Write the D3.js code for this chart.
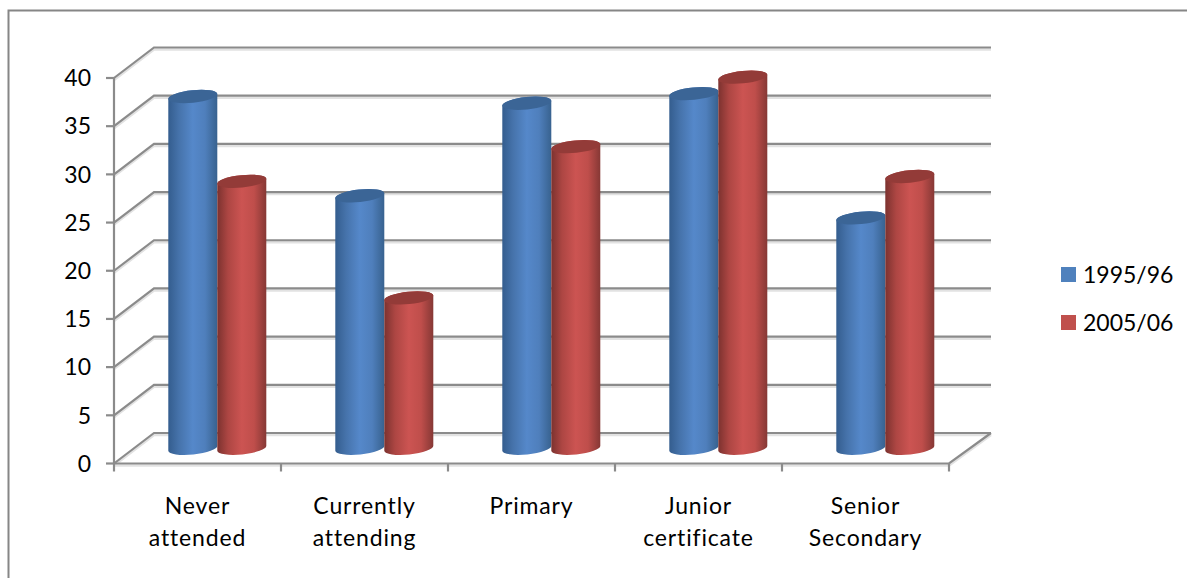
<!DOCTYPE html>
<html>
<head>
<meta charset="utf-8">
<script src="https://cdn.jsdelivr.net/npm/d3@7/dist/d3.min.js"></script>
<style>
  html, body { margin: 0; padding: 0; background: #fff; }
  svg { display: block; }
  text { font-family: Lato, "Open Sans", sans-serif; fill: #000; }
</style>
</head>
<body>
<svg id="chart" width="1187" height="578"></svg>
<script>
// Education levels and the two survey rounds
const categories = [["Never", "attended"], ["Currently", "attending"], ["Primary"], ["Junior", "certificate"], ["Senior", "Secondary"]];
const seriesNames = ["1995/96", "2005/06"];
const values1995 = [36.5, 26.2, 35.8, 36.8, 23.9];
const values2005 = [27.7, 15.6, 31.3, 38.5, 28.2];
const yTicks = [0, 5, 10, 15, 20, 25, 30, 35, 40];

const width = 1187, height = 578;
const frontLeft = 114, frontRight = 949, frontBottom = 463.5, frontTop = 78;
const depthX = 40, depthY = -30.5;
const gridColor = "#8b8b8b", shadowColor = "#e2e2e2";

const svg = d3.select("#chart");
const defs = svg.append("defs");

// Horizontal shading that makes each column read as a cylinder
const shades = [
  { id: "blue", stops: ["#345d8e", "#4673ab", "#5588ca", "#4f7fbc", "#38628f"], top: "#3b6596", flat: "#4f81bd" },
  { id: "red", stops: ["#7c322f", "#ad4643", "#cc5452", "#bf4e4b", "#863835"], top: "#933b38", flat: "#c0504d" }
];
shades.forEach(s => {
  const g = defs.append("linearGradient").attr("id", "body-" + s.id);
  [0, 0.22, 0.5, 0.75, 1].forEach((o, i) => g.append("stop").attr("offset", o).attr("stop-color", s.stops[i]));
});

// Outer chart frame: only the top and left edges fall inside the page
svg.append("path").attr("d", `M8.5,${height}V10.5H${width}`)
  .attr("fill", "none").attr("stroke", "#868686").attr("stroke-width", 2);

const x = d3.scaleBand().domain(d3.range(categories.length)).range([frontLeft, frontRight]);
const y = d3.scaleLinear().domain([0, 40]).range([frontBottom, frontTop]);

// Back wall, side wall and floor
const walls = svg.append("g").attr("fill", "none");
function gridLine(d, color, w, dy) {
  walls.append("path").attr("d", d).attr("stroke", color).attr("stroke-width", w)
    .attr("transform", `translate(0,${dy})`);
}
[[shadowColor, 2.5, 2], [gridColor, 2.2, 0]].forEach(([color, w, dy]) => {
  yTicks.forEach(t => {
    const p = y(t);
    gridLine(`M${frontLeft},${p}L${frontLeft + depthX},${p + depthY}H${frontRight + depthX + 2}`, color, w, dy);
  });
  gridLine(`M${frontLeft},${y(0)}H${frontRight}L${frontRight + depthX + 2},${y(0) + depthY}`, color, w, dy);
});

// Vertical axis with its outward ticks
const yAxis = svg.append("g");
yAxis.append("path").attr("d", `M${frontLeft},${y(40)}V${y(0)}`)
  .attr("stroke", gridColor).attr("stroke-width", 2.2).attr("fill", "none");
yAxis.selectAll("line").data(yTicks).join("line")
  .attr("x1", frontLeft - 8).attr("x2", frontLeft)
  .attr("y1", d => y(d)).attr("y2", d => y(d))
  .attr("stroke", gridColor).attr("stroke-width", 2.2);
yAxis.selectAll("text").data(yTicks).join("text")
  .attr("x", 91).attr("y", d => y(d)).attr("dy", "0.36em")
  .attr("text-anchor", "end").attr("font-size", 23).text(d => d);

// Category ticks along the front edge of the floor
svg.append("g").selectAll("line").data(d3.range(categories.length + 1)).join("line")
  .attr("x1", i => frontLeft + i * x.bandwidth()).attr("x2", i => frontLeft + i * x.bandwidth())
  .attr("y1", y(0)).attr("y2", y(0) + 8)
  .attr("stroke", gridColor).attr("stroke-width", 2.2);

// Columns stand halfway back in the depth of the floor
const inset = 54.3, colWidth = 49;
const planeShiftY = depthY / 2;
const tilt = 2.5, ry = 6.2;
const rx = Math.hypot(colWidth / 2, tilt);
const rotation = -Math.atan2(tilt, colWidth / 2) * 180 / Math.PI;

function columnPaths(cat, serie, value) {
  const x0 = x(cat) + inset + serie * colWidth;
  const x1 = x0 + colWidth;
  const yTop = y(value) + planeShiftY;
  const yBase = y(0) + planeShiftY;
  const arc = (sweep, tx, ty) => `A${rx},${ry} ${rotation} 0 ${sweep} ${tx},${ty}`;
  return {
    body: `M${x0},${yTop + tilt}L${x0},${yBase + tilt}` + arc(0, x1, yBase - tilt) +
          `L${x1},${yTop - tilt}` + arc(0, x0, yTop + tilt) + "Z",
    top: `M${x0},${yTop + tilt}` + arc(1, x1, yTop - tilt) + arc(1, x0, yTop + tilt) + "Z"
  };
}

const allValues = [values1995, values2005];
categories.forEach((_, c) => {
  allValues.forEach((vals, s) => {
    const p = columnPaths(c, s, vals[c]);
    const g = svg.append("g");
    g.append("path").attr("d", p.body).attr("fill", `url(#body-${shades[s].id})`);
    g.append("path").attr("d", p.top).attr("fill", shades[s].top);
  });
});

// Category labels, one or two lines
const labels = svg.append("g").attr("font-size", 23).attr("text-anchor", "middle").attr("letter-spacing", 0.85);
categories.forEach((lines, c) => {
  const t = labels.append("text").attr("x", x(c) + x.bandwidth() / 2);
  lines.forEach((line, i) => t.append("tspan")
    .attr("x", x(c) + x.bandwidth() / 2)
    .attr("y", 514 + i * 32).text(line));
});

// Legend
const legend = svg.append("g");
seriesNames.forEach((name, i) => {
  const ly = 267 + i * 48;
  legend.append("rect").attr("x", 1061).attr("y", ly).attr("width", 15).attr("height", 15).attr("fill", shades[i].flat);
  legend.append("text").attr("x", 1083).attr("y", ly + 7.5).attr("dy", "0.36em").attr("font-size", 23).text(name);
});
</script>
</body>
</html>
